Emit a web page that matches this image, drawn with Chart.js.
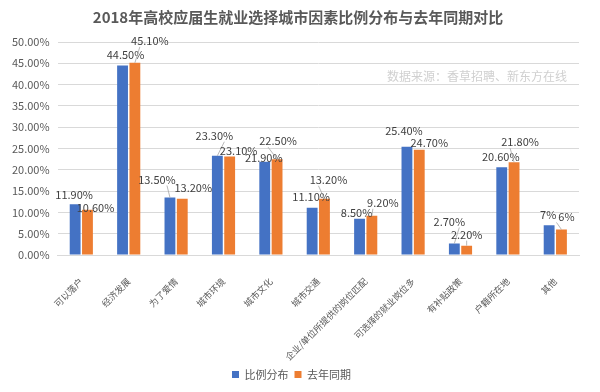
<!DOCTYPE html>
<html>
<head>
<meta charset="utf-8">
<script src="https://cdn.jsdelivr.net/npm/chart.js@4"></script>
<style>
  html, body { margin: 0; padding: 0; background: #fff; }
  #wrap { width: 600px; height: 392px; position: relative; }
</style>
</head>
<body>
<div id="wrap"><canvas id="myChart"></canvas></div>
<script>
// 数据
const categories = ['可以落户', '经济发展', '为了爱情', '城市环境', '城市文化', '城市交通',
  '企业/单位所提供的岗位匹配', '可选择的就业岗位多', '有补贴政策', '户籍所在地', '其他'];
const ratio2018 = [11.9, 44.5, 13.5, 23.3, 21.9, 11.1, 8.5, 25.4, 2.7, 20.6, 7];
const lastYear = [10.6, 45.1, 13.2, 23.1, 22.5, 13.2, 9.2, 24.7, 2.2, 21.8, 6];
const yTicks = [0, 5, 10, 15, 20, 25, 30, 35, 40, 45, 50];

// 数据标签的偏移（相对柱顶，标签中心）
const blueOffsets = [[-1,-9],[3,-11],[-13,-18],[-3,-20],[-1,-4],[-1,-11],[-3,-6],[-3,-16],[-5,-22],[-1,-10],[-1,-10]];
const orangeOffsets = [[8,-2],[15,-22],[11,-11],[9,-6],[1,-18],[4,-19],[11,-13],[10,-7],[0,-11],[6,-20],[5,-13]];
const blueLeader = [false,false,true,true,false,false,false,false,true,false,false];
const orangeLeader = [false,true,false,false,true,true,true,false,true,true,true];

const TITLE = '2018年高校应届生就业选择城市因素比例分布与去年同期对比';
const FONT = '"Noto Sans CJK SC", "Noto Sans", sans-serif';

function fmt(v) {
  return Number.isInteger(v) ? v + '%' : v.toFixed(2) + '%';
}

const labelPlugin = {
  id: 'barLabels',
  afterDatasetsDraw(chart) {
    const ctx = chart.ctx;
    const sets = [[blueOffsets, blueLeader], [orangeOffsets, orangeLeader]];
    ctx.save();
    // 标题（画在整张图的中间）
    ctx.font = 'bold 15px ' + FONT;
    ctx.fillStyle = '#595959';
    ctx.textAlign = 'center';
    ctx.textBaseline = 'middle';
    ctx.fillText(TITLE, 298, 17);

    ctx.font = '11px ' + FONT;
    chart.data.datasets.forEach((ds, i) => {
      const meta = chart.getDatasetMeta(i);
      meta.data.forEach((bar, j) => {
        const [dx, dy] = sets[i][0][j];
        const lx = bar.x + dx, ly = bar.y + dy;
        if (sets[i][1][j]) {
          ctx.strokeStyle = '#a6a6a6';
          ctx.lineWidth = 0.8;
          ctx.beginPath();
          ctx.moveTo(bar.x, bar.y);
          ctx.lineTo(lx - Math.sign(dx) * 10, ly + 6);
          ctx.stroke();
        }
        ctx.fillStyle = '#404040';
        ctx.fillText(fmt(ds.data[j]), lx, ly);
      });
    });
    // 数据来源
    ctx.font = '12px ' + FONT;
    ctx.fillStyle = '#d0d0d0';
    ctx.textAlign = 'right';
    ctx.fillText('数据来源：香草招聘、新东方在线', chart.chartArea.right - 12, 76);
    ctx.restore();
  }
};

new Chart(document.getElementById('myChart'), {
  type: 'bar',
  data: {
    labels: categories,
    datasets: [
      { label: '比例分布', data: ratio2018, backgroundColor: '#4472C4',
        categoryPercentage: 0.52, barPercentage: 0.88 },
      { label: '去年同期', data: lastYear, backgroundColor: '#ED7D31',
        categoryPercentage: 0.52, barPercentage: 0.88 }
    ]
  },
  options: {
    responsive: true,
    maintainAspectRatio: false,
    animation: false,
    layout: { padding: { left: 4, right: 21, top: 42, bottom: 2 } },
    plugins: {
      title: { display: false },
      legend: {
        position: 'bottom',
        labels: {
          color: '#595959',
          font: { family: FONT, size: 11 },
          boxWidth: 7, boxHeight: 7, padding: 6
        }
      },
      tooltip: { enabled: false }
    },
    scales: {
      x: {
        grid: { display: false },
        border: { color: '#d9d9d9' },
        afterFit: scale => { scale.height = 108; },
        ticks: {
          color: '#595959',
          font: { family: FONT, size: 9 },
          padding: 13,
          maxRotation: 45, minRotation: 45, autoSkip: false
        }
      },
      y: {
        min: 0, max: 50,
        afterBuildTicks: axis => { axis.ticks = yTicks.map(v => ({ value: v })); },
        grid: { color: '#d9d9d9', drawTicks: false },
        border: { display: false },
        ticks: {
          color: '#595959',
          font: { family: FONT, size: 11 },
          padding: 8,
          callback: v => v.toFixed(2) + '%'
        }
      }
    }
  },
  plugins: [labelPlugin]
});
</script>
</body>
</html>
